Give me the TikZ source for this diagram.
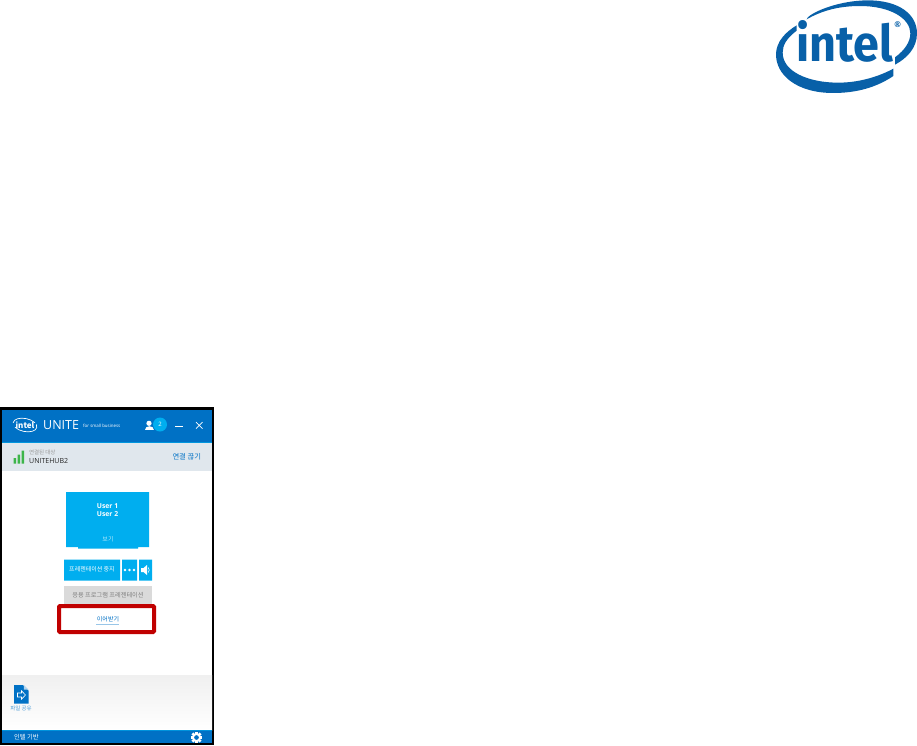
\documentclass[tikz,border=0pt]{standalone}
\usepackage{fontspec}
\usepackage{graphicx}
\setmainfont{Open Sans}
\newfontfamily\kr{Noto Sans CJK KR}
\newfontfamily\logofont{Fira Sans}[BoldFont={Fira Sans Bold}]
\definecolor{ublue}{HTML}{0071C5}
\definecolor{ucyan}{HTML}{00AEEF}
\definecolor{ugray}{HTML}{E0E7ED}
\definecolor{ured}{HTML}{C00000}
\definecolor{ubtn}{HTML}{DADADA}
\definecolor{logob}{HTML}{0860A8}
\definecolor{ugreen}{HTML}{3DB54A}
\tikzset{
  x=1pt,y=-1pt,
  lab/.style={inner sep=0pt,outer sep=0pt,font=\kr\fontsize{#1}{#1}\selectfont},
}
\begin{document}
\begin{tikzpicture}
\useasboundingbox (0,0) rectangle (917,745);
% ---- Intel logo
\begin{scope}[shift={(770,0)},x=0.3333pt,y=-0.3333pt]
\fill[logob] (110,58) .. controls (110,45) and (190,3) .. (290,1)
  .. controls (390,0) and (441,45) .. (441,100)
  .. controls (441,145) and (410,175) .. (375,194)
  -- (375,172) .. controls (405,150) and (421,125) .. (421,100)
  .. controls (421,55) and (360,18) .. (270,18)
  .. controls (200,18) and (150,35) .. (110,58) -- cycle;
\fill[logob] (80,76) -- (80,92) .. controls (50,115) and (38,135) .. (38,158)
  .. controls (38,215) and (115,248) .. (205,248)
  .. controls (270,248) and (330,228) .. (370,206)
  -- (370,228) .. controls (320,262) and (260,279) .. (190,279)
  .. controls (80,279) and (16,225) .. (18,160)
  .. controls (20,125) and (45,97) .. (80,76) -- cycle;
\end{scope}
\node[inner sep=0pt,outer sep=0pt,anchor=south west,text=logob] (logotext) at (796,62.5) {\resizebox{97pt}{41pt}{\logofont\bfseries intel}};
\node[inner sep=0pt,text=logob,font=\bfseries\fontsize{8}{8}\selectfont] (logoreg) at (897.7,25) {®};
% ---- Window
\fill[black] (0,407) rectangle (214,745);
\fill[white] (2,409.5) rectangle (212,743);
\fill[ublue] (2,409.5) rectangle (212,442);
\fill[ucyan!60!ublue] (2,442) rectangle (212,443);
\fill[ugray] (2,443) rectangle (212,471);
% title bar
\draw[white,line width=0.7pt,rotate around={-12:(25,425)}] (25,425) ellipse (12 and 6.5);
\fill[ublue] (13,427) rectangle (36,423);
\node[lab=8,text=white] (minilogo) at (25,425) {\bfseries intel};
\node[inner sep=0pt,anchor=west,text=white,font=\fontsize{12.5}{12.5}\selectfont] (unite) at (43,425) {UNITE};
\node[inner sep=0pt,anchor=west,text=white,font=\fontsize{4.4}{4.4}\selectfont] (small) at (83,425.5) {for small business};
\fill[white] (149,423.3) circle (2.6);
\fill[white] (144.5,430) .. controls (144.5,425) and (153.5,425) .. (153.5,430) -- cycle;
\node[circle,fill=ucyan,minimum size=14pt,inner sep=0pt,text=white,font=\fontsize{6}{6}\selectfont] (count) at (160,424.5) {2};
\draw[white,line width=0.7pt] (175,426) -- (183,426);
\draw[white,line width=0.7pt] (196,422) -- (202.5,428.5) (202.5,422) -- (196,428.5);
% connection band
\fill[ugreen] (13.5,458) rectangle (16,463.5) (17.5,454.5) rectangle (20,463.5) (21.5,450.5) rectangle (24,463.5);
\node[lab=5.5,anchor=west,text=black!40] (conn) at (29,452) {연결된 대상};
\node[inner sep=0pt,anchor=west,text=black!85,font=\fontsize{7}{7}\selectfont] (hub) at (29,461) {UNITEHUB2};
\node[lab=7.3,anchor=east,text=ublue] (disc) at (201,456.5) {연결 끊기};
% main tile
\fill[ucyan] (66,492) rectangle (149,547) (78,547) rectangle (138,548.5);
\node[align=center,inner sep=0pt,text=white,font=\bfseries\fontsize{6.8}{8}\selectfont] (users) at (107.5,510) {User 1\\User 2};
\node[lab=6,text=white!70!ucyan] (view) at (108,539) {보기};
% buttons
\fill[ucyan] (64,559.5) rectangle (120,580.5) (122,559.5) rectangle (137,580.5) (139,559.5) rectangle (152,580.5);
\node[lab=6,text=white] (stop) at (92,569.5) {프레젠테이션 중지};
\foreach \x in {125,129.5,134} \fill[white] (\x,570) circle (1.3);
\fill[white] (141,568) -- (143.5,568) -- (147,565) -- (147,575) -- (143.5,572) -- (141,572) -- cycle;
\draw[white,line width=0.6pt] (148.3,567.5) .. controls (149.5,569) and (149.5,571) .. (148.3,572.5);
\fill[ubtn] (64,585.5) rectangle (152,604);
\node[lab=6.2,text=black!50] (app) at (108,595.5) {응용 프로그램 프레젠테이션};
\draw[ured,line width=4pt,rounded corners=1pt] (59,606) rectangle (154,632);
\node[lab=6,text=ublue] (resume) at (108,619.5) {이어받기};
\draw[ublue!40,line width=0.6pt] (96,624.5) -- (119,624.5);
% bottom panel
\shade[top color=black!6,bottom color=white] (2,675) rectangle (212,730);
\fill[ublue] (14,685) -- (23,685) -- (28.5,690.5) -- (28.5,703.5) -- (14,703.5) -- cycle;
\fill[white!70!ublue] (23.8,685) -- (28.5,689.7) -- (23.8,689.7) -- cycle;
\draw[white,line width=0.6pt] (17.5,693) -- (21.5,693) -- (21.5,690.8) -- (25.5,695) -- (21.5,699.2) -- (21.5,697) -- (17.5,697) -- cycle;
\node[lab=5.5,text=ublue!70] (share) at (21,708) {파일 공유};
\fill[ublue] (2,730) rectangle (212,743);
\fill[ucyan!55!ublue] (2,730) rectangle (212,731);
\node[lab=6.3,anchor=west,text=white] (brand) at (14,737.5) {인텔 기반};
% gear
\foreach \a in {0,45,...,315} \fill[white,rotate around={\a:(196.5,737.5)}] (195.2,731.7) rectangle (197.8,735);
\draw[white,line width=1.7pt] (196.5,737.5) circle (3.4);
\end{tikzpicture}
\end{document}
